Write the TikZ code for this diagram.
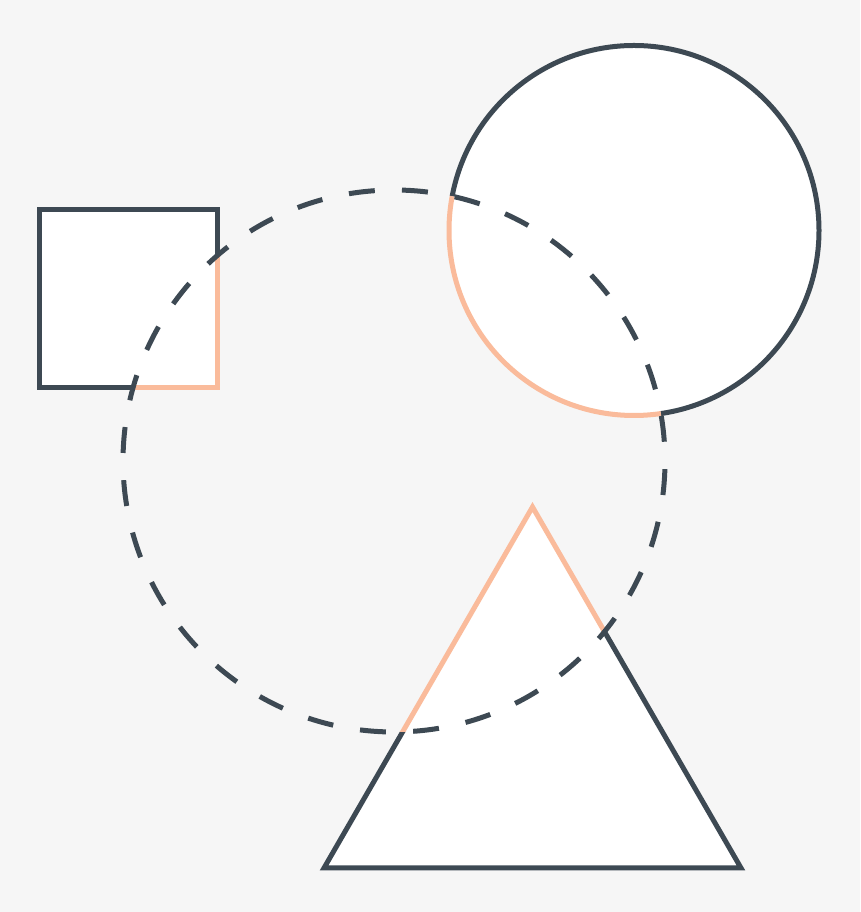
\documentclass[tikz,border=0pt]{standalone}
\begin{document}
\begin{tikzpicture}[x=1pt,y=1pt,
  shapeline/.style={line width=5pt, line join=miter},
  darkline/.style={shapeline, draw=darkc},
  orangeline/.style={shapeline, draw=orangec},
  dashcircle/.style={line width=5pt, draw=darkc, dash pattern=on 26pt off 27.21pt, dash phase=39.6pt}]
\definecolor{darkc}{HTML}{3D4953}
\definecolor{orangec}{HTML}{FABB9B}
\definecolor{bgc}{HTML}{F6F6F6}
\fill[bgc] (0,0) rectangle (860,912);
\useasboundingbox (0,0) rectangle (860,912);
\coordinate (dc) at (394,451);
\coordinate (bc) at (634,681.5);
\coordinate (sq1) at (39.5,524.5);
\coordinate (sq2) at (217,702.5);
\coordinate (ta) at (532.5,405);
\coordinate (tb) at (324,44);
\coordinate (tc) at (741,44);
% white fills
\fill[white] (sq1) rectangle (sq2);
\fill[white] (bc) circle[radius=185];
\fill[white] (ta) -- (tb) -- (tc) -- cycle;
% dark parts outside the dashed circle
\begin{scope}
  \clip (-10,-10) -- (-10,922) -- (870,922) -- (870,-10) -- cycle
        (dc) ++(0:271) arc[start angle=0, end angle=360, radius=271] -- cycle;
  \draw[darkline] (sq1) rectangle (sq2);
  \draw[darkline] (bc) circle[radius=185];
  \draw[darkline] (ta) -- (tb) -- (tc) -- cycle;
\end{scope}
% orange parts inside the dashed circle
\begin{scope}
  \clip (dc) circle[radius=271];
  \draw[orangeline] (sq1) rectangle (sq2);
  \draw[orangeline] (bc) circle[radius=185];
  \draw[orangeline] (ta) -- (tb) -- (tc) -- cycle;
\end{scope}
% dashed circle
\draw[dashcircle] (dc) ++(1.2:271) arc[start angle=1.2, end angle=361.2, radius=271];
\end{tikzpicture}
\end{document}
